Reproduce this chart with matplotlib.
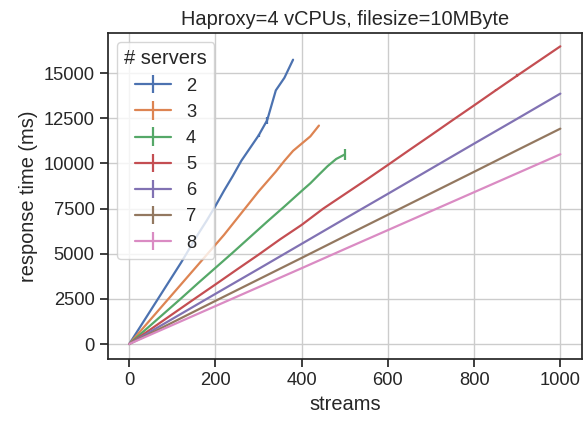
import matplotlib
matplotlib.use("Agg")
import matplotlib.pyplot as plt
import seaborn as sns

# response time (ms) vs number of streams, one series per server count
x2 = [0, 20, 40, 60, 80, 100, 120, 140, 160, 180, 200, 220, 240, 260, 280, 300, 320, 340, 360, 380]
y2 = [0, 750, 1500, 2250, 3000, 3750, 4500, 5300, 6100, 6850, 7650, 8500, 9300, 10150, 10850,
      11550, 12400, 14050, 14750, 15750]
e2 = [0, 0, 0, 0, 0, 0, 0, 0, 0, 0, 0, 0, 0, 0, 0, 100, 200, 0, 0, 0]

x3 = [0, 20, 40, 60, 80, 100, 120, 140, 160, 180, 200, 220, 240, 260, 280, 300, 320, 340, 360,
      380, 400, 420, 440]
y3 = [0, 550, 1100, 1650, 2200, 2750, 3300, 3850, 4400, 4950, 5500, 6050, 6650, 7250, 7850, 8450,
      9000, 9550, 10150, 10700, 11100, 11500, 12100]
e3 = [0] * len(x3)

x4 = [0, 20, 40, 60, 80, 100, 120, 140, 160, 180, 200, 220, 240, 260, 280, 300, 320, 340, 360,
      380, 400, 420, 440, 460, 480, 500]
y4 = [0, 420, 840, 1260, 1680, 2100, 2520, 2950, 3380, 3800, 4220, 4640, 5060, 5490, 5920, 6350,
      6780, 7200, 7620, 8050, 8480, 8900, 9380, 9850, 10250, 10500]
e4 = [0] * 25 + [280]

x5 = [0, 50, 100, 150, 200, 250, 300, 350, 400, 450, 500, 550, 600, 650, 700, 750, 800, 850,
      900, 950, 1000]
y5 = [0, 820, 1650, 2480, 3300, 4130, 4950, 5800, 6600, 7500, 8300, 9100, 9920, 10750, 11570,
      12400, 13220, 14050, 14870, 15680, 16490]
e5 = [0] * 17 + [60, 60, 0, 0]

x678 = [0, 100, 200, 300, 400, 500, 600, 700, 800, 900, 1000]
y6 = [0, 1390, 2780, 4160, 5550, 6940, 8320, 9710, 11100, 12480, 13870]
y7 = [0, 1190, 2390, 3580, 4770, 5970, 7160, 8350, 9540, 10740, 11930]
y8 = [0, 1050, 2100, 3150, 4200, 5260, 6310, 7360, 8410, 9460, 10510]
e678 = [0] * len(x678)

series = [
    ("2", x2, y2, e2),
    ("3", x3, y3, e3),
    ("4", x4, y4, e4),
    ("5", x5, y5, e5),
    ("6", x678, y6, e678),
    ("7", x678, y7, e678),
    ("8", x678, y8, e678),
]

sns.set_theme(context="notebook", style="ticks", font_scale=1.2, rc={"axes.grid": True})
plt.rcParams["font.family"] = ["Liberation Sans", "DejaVu Sans"]

fig = plt.figure(figsize=(5.84, 4.26), dpi=100)
ax = fig.add_axes([0.1844, 0.1573, 0.812, 0.7653])
colors = sns.color_palette("deep")

for i, (name, xs, ys, es) in enumerate(series):
    ax.errorbar(xs, ys, yerr=es, color=colors[i], label=name, linewidth=1.6)

ax.set_xlim(-50, 1050)
ax.set_ylim(-830, 17230)
ax.set_xticks([0, 200, 400, 600, 800, 1000])
ax.set_yticks([0, 2500, 5000, 7500, 10000, 12500, 15000])
ax.set_xlabel("streams")
ax.set_ylabel("response time (ms)")
ax.set_title("Haproxy=4 vCPUs, filesize=10MByte")
ax.legend(title="# servers", loc="upper left")

fig.savefig("out.png", dpi=100)
